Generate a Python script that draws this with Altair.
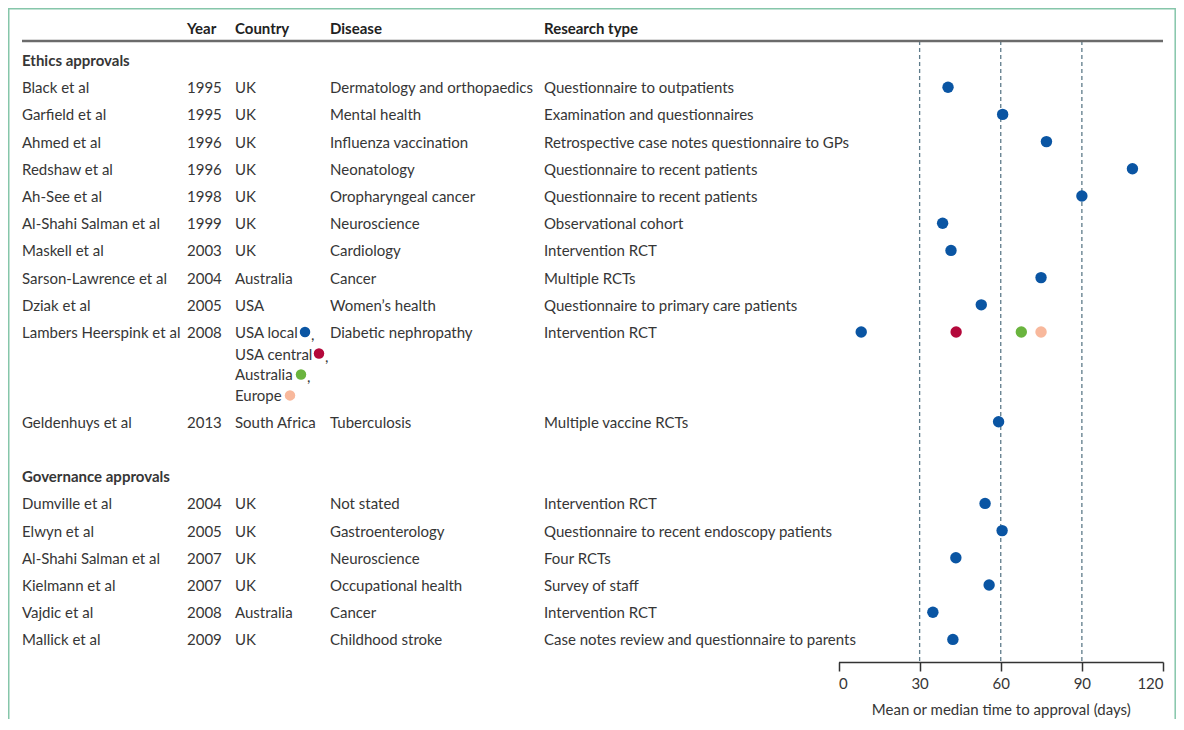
import altair as alt
import pandas as pd

# ---------------- data ----------------
authors = ["Black et al", "Garfield et al", "Ahmed et al", "Redshaw et al", "Ah-See et al",
           "Al-Shahi Salman et al", "Maskell et al", "Sarson-Lawrence et al", "Dziak et al",
           "Lambers Heerspink et al", "Geldenhuys et al",
           "Dumville et al", "Elwyn et al", "Al-Shahi Salman et al", "Kielmann et al",
           "Vajdic et al", "Mallick et al"]
years = ["1995", "1995", "1996", "1996", "1998", "1999", "2003", "2004", "2005", "2008", "2013",
         "2004", "2005", "2007", "2007", "2008", "2009"]
countries = ["UK", "UK", "UK", "UK", "UK", "UK", "UK", "Australia", "USA", "USA local", "South Africa",
             "UK", "UK", "UK", "UK", "Australia", "UK"]
diseases = ["Dermatology and orthopaedics", "Mental health", "Influenza vaccination", "Neonatology",
            "Oropharyngeal cancer", "Neuroscience", "Cardiology", "Cancer", "Women\u2019s health",
            "Diabetic nephropathy", "Tuberculosis",
            "Not stated", "Gastroenterology", "Neuroscience", "Occupational health", "Cancer",
            "Childhood stroke"]
research_types = ["Questionnaire to outpatients", "Examination and questionnaires",
                  "Retrospective case notes questionnaire to GPs", "Questionnaire to recent patients",
                  "Questionnaire to recent patients", "Observational cohort", "Intervention RCT",
                  "Multiple RCTs", "Questionnaire to primary care patients", "Intervention RCT",
                  "Multiple vaccine RCTs",
                  "Intervention RCT", "Questionnaire to recent endoscopy patients", "Four RCTs",
                  "Survey of staff", "Intervention RCT", "Case notes review and questionnaire to parents"]
# table row of each study (row units)
study_rows = [1, 2, 3, 4, 5, 6, 7, 8, 9, 10, 13.3, 16.3, 17.3, 18.3, 19.3, 20.3, 21.3]

sections = ["Ethics approvals", "Governance approvals"]
section_rows = [0, 15.3]

headers = ["Year", "Country", "Disease", "Research type"]

# extra country lines of the multi-site study
extra_countries = ["USA central", "Australia", "Europe"]
extra_rows = [10.79, 11.56, 12.33]
site_names = ["USA local", "USA central", "Australia", "Europe"]
site_rows = [10, 10.79, 11.56, 12.33]

# mean or median time to approval (days)
dot_rows = [1, 2, 3, 4, 5, 6, 7, 8, 9, 10, 10, 10, 10, 13.3, 16.3, 17.3, 18.3, 19.3, 20.3, 21.3]
dot_days = [40.5, 60.7, 76.9, 108.7, 90.0, 38.5, 41.6, 74.9, 52.8, 8.4, 43.5, 67.6, 74.9, 59.2,
            54.2, 60.5, 43.4, 55.7, 34.9, 42.3]
dot_site = ["single"] * 9 + ["USA local", "USA central", "Australia", "Europe"] + ["single"] * 7

ref_days = [30, 60, 90]
axis_ticks = [0, 30, 60, 90, 120]

# ---------------- layout / style ----------------
FONT = "Lato"
FS = 15
TXT = "#363636"
COL_X = {"author": 14, "year": 179, "country": 227, "disease": 322, "research": 536}
HEADER_ROW = -1.18
HEADER_LINE_ROW = -0.70
AXIS_ROW = 22.13
INLINE_DOT_X = [297, 311, 293, 282]
SITE_COLORS = {"single": "#0a55a3", "USA local": "#0a55a3", "USA central": "#b4083b",
               "Australia": "#6ab43e", "Europe": "#f8b89c"}

W, H = 1168, 654
yscale = alt.Scale(domain=[0, AXIS_ROW], range=[52, H])
xscale = alt.Scale(domain=[0, 120], range=[830.5, 1155])

studies = pd.DataFrame({"author": authors, "year": years, "country": countries,
                        "disease": diseases, "research": research_types, "row": study_rows})
dots = pd.DataFrame({"row": dot_rows, "days": dot_days, "site": dot_site})
secs = pd.DataFrame({"text": sections, "row": section_rows})
extra = pd.DataFrame({"text": extra_countries, "row": extra_rows})
sites = pd.DataFrame({"site": site_names, "row": site_rows, "px": INLINE_DOT_X,
                      "comma": [",", ",", ",", ""]})
refs = pd.DataFrame({"days": ref_days, "y1": [HEADER_LINE_ROW] * 3, "y2": [AXIS_ROW] * 3})
hdr = pd.DataFrame({"text": headers, "px": [COL_X["year"], COL_X["country"], COL_X["disease"],
                                             COL_X["research"]], "row": [HEADER_ROW] * 4})

site_dom = list(SITE_COLORS.keys())
site_rng = list(SITE_COLORS.values())
color_scale = alt.Scale(domain=site_dom, range=site_rng)


def text_layer(df, field, x, bold=False):
    return alt.Chart(df).mark_text(
        align="left", baseline="middle", font=FONT, fontSize=FS, color=TXT, dy=1,
        fontWeight="bold" if bold else "normal"
    ).encode(
        x=alt.value(x),
        y=alt.Y("row:Q", scale=yscale, axis=None),
        text=f"{field}:N",
    )


layers = []

# frame
frame = alt.Chart(pd.DataFrame({"a": [0]})).mark_rect(
    fill=None, stroke="#86c6aa", strokeWidth=1.5
).encode(x=alt.value(0.75), x2=alt.value(1167.2), y=alt.value(0.75), y2=alt.value(H + 80))
layers.append(frame)

# dashed reference lines
layers.append(alt.Chart(refs).mark_rule(color="#5e7b8a", strokeWidth=1.3, strokeDash=[4, 3]).encode(
    x=alt.X("days:Q", scale=xscale,
            axis=alt.Axis(values=axis_ticks, title="Mean or median time to approval (days)",
                          grid=False, domainColor="#333333", domainWidth=1.5, tickColor="#333333",
                          tickWidth=1.5, tickSize=9, labelFont=FONT, labelFontSize=FS,
                          labelColor=TXT, labelPadding=5, titleFont=FONT, titleFontSize=FS,
                          titleFontWeight="normal", titleColor=TXT, titlePadding=11)),
    y=alt.Y("y1:Q", scale=yscale, axis=None),
    y2="y2:Q",
))

# header line
layers.append(alt.Chart(pd.DataFrame({"row": [HEADER_LINE_ROW]})).mark_rule(
    color="#6b6b6b", strokeWidth=2.5).encode(
    x=alt.value(COL_X["author"]), x2=alt.value(1155),
    y=alt.Y("row:Q", scale=yscale, axis=None)))

# headers
layers.append(alt.Chart(hdr).mark_text(align="left", baseline="middle", font=FONT, fontSize=FS,
                                       color="#222222", fontWeight="bold", dy=1).encode(
    x=alt.X("px:Q", scale=None), y=alt.Y("row:Q", scale=yscale, axis=None), text="text:N"))

# section titles
layers.append(text_layer(secs, "text", COL_X["author"], bold=True))

# table columns
for col in ["author", "year", "country", "disease", "research"]:
    layers.append(text_layer(studies, col, COL_X[col]))
layers.append(text_layer(extra, "text", COL_X["country"]))

# inline site markers
layers.append(alt.Chart(sites).mark_circle(size=110, opacity=1).encode(
    x=alt.X("px:Q", scale=None),
    y=alt.Y("row:Q", scale=yscale, axis=None),
    color=alt.Color("site:N", scale=color_scale, legend=None)))
layers.append(alt.Chart(sites).mark_text(align="left", baseline="middle", font=FONT, fontSize=FS,
                                         color=TXT, dx=6, dy=3).encode(
    x=alt.X("px:Q", scale=None), y=alt.Y("row:Q", scale=yscale, axis=None), text="comma:N"))

# data dots
layers.append(alt.Chart(dots).mark_circle(size=130, opacity=1).encode(
    x=alt.X("days:Q", scale=xscale),
    y=alt.Y("row:Q", scale=yscale, axis=None),
    color=alt.Color("site:N", scale=color_scale, legend=None)))

chart = alt.layer(*layers).properties(
    width=W, height=H,
    autosize=alt.AutoSizeParams(type="none"),
    padding={"left": 0, "top": 0, "right": 0, "bottom": 57},
    background="white",
).configure_view(stroke=None)

chart.save("out.html", embed_options={"renderer": "svg", "actions": False})
